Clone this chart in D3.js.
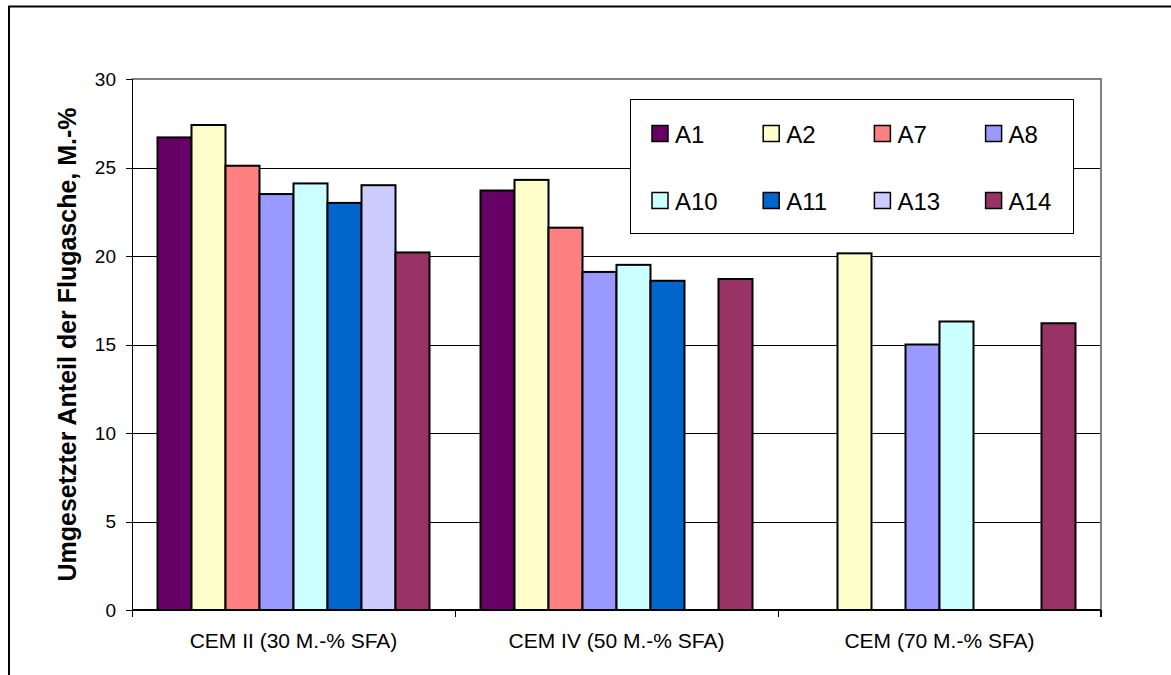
<!DOCTYPE html>
<html>
<head>
<meta charset="utf-8">
<script src="https://cdn.jsdelivr.net/npm/d3@7"></script>
<style>
    body { margin: 0; background: #fff; }
    svg { display: block; font-family: "Liberation Sans", Arial, sans-serif; }
    .grid line { stroke: #000; stroke-width: 1; shape-rendering: crispEdges; }
    .axis path, .axis line { stroke: #000; shape-rendering: crispEdges; }
    .axis text { font-size: 19px; fill: #000; }
</style>
</head>
<body>
<script>
//chart data
var categories = ["CEM II (30 M.-% SFA)", "CEM IV (50 M.-% SFA)", "CEM (70 M.-% SFA)"];
var seriesNames = ["A1", "A2", "A7", "A8", "A10", "A11", "A13", "A14"];
var seriesColors = ["#660066", "#FFFFCC", "#FF8080", "#9999FF", "#CCFFFF", "#0066CC", "#CCCCFF", "#993366"];
//one row per series, one value per category (null = no bar)
var values = [
    [26.7, 23.7, null],
    [27.4, 24.3, 20.15],
    [25.1, 21.6, null],
    [23.5, 19.1, 15.0],
    [24.1, 19.5, 16.3],
    [23.0, 18.6, null],
    [24.0, null, null],
    [20.2, 18.7, 16.2]
];
var yTicks = [0, 5, 10, 15, 20, 25, 30];
var yTitle = "Umgesetzter Anteil der Flugasche, M.-%";

(function(){

//frame dimensions
var width = 1171,
    height = 675,
    plotLeft = 132,
    plotRight = 1101,
    plotTop = 79,
    plotBottom = 610;

var svg = d3.select("body")
    .append("svg")
    .attr("width", width)
    .attr("height", height);

//outer chart border (right and bottom sit outside the picture)
svg.append("rect")
    .attr("x", 9)
    .attr("y", 6.5)
    .attr("width", 1300)
    .attr("height", 800)
    .attr("fill", "#fff")
    .attr("stroke", "#000")
    .attr("stroke-width", 2);

//scales
var x0 = d3.scaleBand()
    .domain(categories)
    .range([plotLeft, plotRight])
    .padding(0);

var x1 = d3.scaleBand()
    .domain(seriesNames)
    .range([0, x0.bandwidth()])
    .paddingInner(0)
    .paddingOuter(0.75);

var y = d3.scaleLinear()
    .domain([0, 30])
    .range([plotBottom, plotTop]);

//horizontal gridlines
svg.append("g")
    .attr("class", "grid")
    .selectAll("line")
    .data(yTicks.slice(1, -1))
    .enter()
    .append("line")
    .attr("x1", plotLeft)
    .attr("x2", plotRight)
    .attr("y1", function(d){ return Math.round(y(d)) + 0.5; })
    .attr("y2", function(d){ return Math.round(y(d)) + 0.5; });

//plot area border (grey top and right)
svg.append("path")
    .attr("d", "M" + plotLeft + "," + plotTop + "H" + plotRight + "V" + plotBottom)
    .attr("fill", "none")
    .attr("stroke", "#808080")
    .attr("stroke-width", 2);

//bars
var groups = svg.selectAll(".series")
    .data(seriesNames)
    .enter()
    .append("g")
    .attr("class", "series");

groups.selectAll("rect")
    .data(function(s, i){
        return categories.map(function(c, j){
            return { cat: c, name: s, color: seriesColors[i], value: values[i][j] };
        }).filter(function(d){ return d.value != null; });
    })
    .enter()
    .append("rect")
    .attr("x", function(d){ return x0(d.cat) + x1(d.name); })
    .attr("y", function(d){ return y(d.value); })
    .attr("width", x1.bandwidth())
    .attr("height", function(d){ return plotBottom - y(d.value); })
    .attr("fill", function(d){ return d.color; })
    .attr("stroke", "#000")
    .attr("stroke-width", 2);

//y axis
var yAxis = d3.axisLeft(y)
    .tickValues(yTicks)
    .tickSize(6)
    .tickPadding(10)
    .tickFormat(d3.format("d"));

svg.append("g")
    .attr("class", "axis")
    .attr("transform", "translate(" + plotLeft + ",0)")
    .call(yAxis)
    .call(function(g){ g.select(".domain").attr("d", "M0," + plotTop + "V" + plotBottom); });

//x axis: line plus category boundary ticks
var xAxis = svg.append("g").attr("class", "axis");

xAxis.append("line")
    .attr("x1", plotLeft)
    .attr("x2", plotRight)
    .attr("y1", plotBottom)
    .attr("y2", plotBottom)
    .attr("stroke-width", 2);

xAxis.selectAll(".bound")
    .data(categories.map(function(c){ return x0(c); }).concat([plotRight]))
    .enter()
    .append("line")
    .attr("class", "bound")
    .attr("x1", function(d){ return d; })
    .attr("x2", function(d){ return d; })
    .attr("y1", plotBottom)
    .attr("y2", plotBottom + 7)
    .attr("stroke", function(d, i){ return i == categories.length ? "#808080" : "#000"; })
    .attr("stroke-width", function(d, i){ return i == categories.length ? 2 : 1; });

xAxis.selectAll(".catLabel")
    .data(categories)
    .enter()
    .append("text")
    .attr("class", "catLabel")
    .attr("x", function(d){ return x0(d) + x0.bandwidth() / 2; })
    .attr("y", 648)
    .attr("text-anchor", "middle")
    .style("font-size", "21px")
    .text(function(d){ return d; });

//y axis title
svg.append("text")
    .attr("transform", "translate(76," + ((plotTop + plotBottom) / 2) + ") rotate(-90)")
    .attr("text-anchor", "middle")
    .style("font-size", "25px")
    .style("font-weight", "bold")
    .text(yTitle);

//legend
var legend = svg.append("g")
    .attr("class", "legend")
    .attr("transform", "translate(630.5,99.5)");

legend.append("rect")
    .attr("width", 443)
    .attr("height", 134)
    .attr("fill", "#fff")
    .attr("stroke", "#000")
    .attr("stroke-width", 1);

var legendItems = legend.selectAll(".item")
    .data(seriesNames)
    .enter()
    .append("g")
    .attr("class", "item")
    .attr("transform", function(d, i){
        return "translate(" + (21.5 + (i % 4) * 111.2) + "," + (26 + Math.floor(i / 4) * 67) + ")";
    });

legendItems.append("rect")
    .attr("width", 16)
    .attr("height", 16)
    .attr("fill", function(d, i){ return seriesColors[i]; })
    .attr("stroke", "#000")
    .attr("stroke-width", 1.5);

legendItems.append("text")
    .attr("x", 23)
    .attr("y", 17)
    .style("font-size", "24px")
    .text(function(d){ return d; });

})();
</script>
</body>
</html>
